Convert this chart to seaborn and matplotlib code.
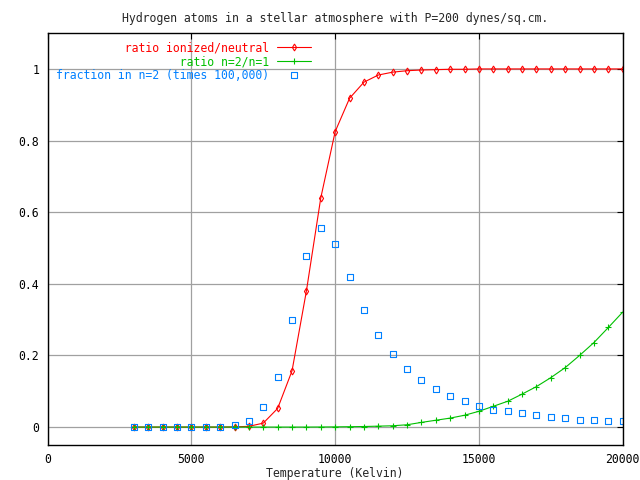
import matplotlib
matplotlib.use("Agg")
import matplotlib.pyplot as plt
from matplotlib.path import Path
import seaborn as sns

temps = [3000, 3500, 4000, 4500, 5000, 5500, 6000, 6500, 7000, 7500,
         8000, 8500, 9000, 9500, 10000, 10500, 11000, 11500, 12000, 12500,
         13000, 13500, 14000, 14500, 15000, 15500, 16000, 16500, 17000, 17500,
         18000, 18500, 19000, 19500, 20000]

ion_ratio = [0, 0, 0, 0, 0, 0, 0, 0.0005, 0.002, 0.011,
             0.052, 0.157, 0.380, 0.640, 0.825, 0.918, 0.963, 0.983, 0.991, 0.995,
             0.997, 0.998, 0.999, 0.999, 1.0, 1.0, 1.0, 1.0, 1.0, 1.0,
             1.0, 1.0, 1.0, 1.0, 1.0]

n2_n1 = [0, 0, 0, 0, 0, 0, 0, 0, 0, 0,
         0, 0, 0, 0.0002, 0.0005, 0.001, 0.0015, 0.0025, 0.0036, 0.0064,
         0.013, 0.019, 0.025, 0.033, 0.044, 0.058, 0.072, 0.092, 0.113, 0.138,
         0.166, 0.200, 0.236, 0.278, 0.321]

frac_n2 = [0, 0, 0, 0, 0, 0, 0, 0.005, 0.017, 0.056,
           0.141, 0.300, 0.478, 0.556, 0.512, 0.420, 0.328, 0.258, 0.203, 0.161,
           0.130, 0.105, 0.086, 0.072, 0.060, 0.049, 0.044, 0.038, 0.033, 0.027,
           0.024, 0.021, 0.019, 0.016, 0.016]

labels = ["ratio ionized/neutral", "ratio n=2/n=1",
          "fraction in n=2 (times 100,000)"]

RED = "#ff0000"
GREEN = "#00c000"
BLUE = "#0080ff"
GRID = "#a0a0a0"

sns.set_style("white")
plt.rcParams["font.family"] = ["DejaVu Sans Mono"]
plt.rcParams["font.size"] = 8.3

# hollow square with a dot in the middle, like gnuplot's point type
sq = [(-1, -1), (1, -1), (1, 1), (-1, 1), (-1, -1),
      (-0.15, -0.15), (0.15, -0.15), (0.15, 0.15), (-0.15, 0.15), (-0.15, -0.15)]
codes = [Path.MOVETO, Path.LINETO, Path.LINETO, Path.LINETO, Path.CLOSEPOLY] * 2
box_dot = Path(sq, codes)

# monospace font -> pad with spaces to right-align the key texts
width = max(len(s) for s in labels)
keys = [s.rjust(width) for s in labels]

fig = plt.figure(figsize=(6.4, 4.8), dpi=100)
ax = fig.add_axes([0.0744, 0.073, 0.8986, 0.858])

sns.lineplot(x=temps, y=ion_ratio, ax=ax, color=RED, lw=0.8,
             marker="d", markersize=3.5, mfc="none", mec=RED, mew=0.8,
             label=keys[0])
sns.lineplot(x=temps, y=n2_n1, ax=ax, color=GREEN, lw=0.8,
             marker="+", markersize=5, mec=GREEN, mew=0.8,
             label=keys[1])
sns.lineplot(x=temps, y=frac_n2, ax=ax, color=BLUE, linestyle="none",
             marker=box_dot, markersize=4.5, mfc="none", mec=BLUE, mew=0.8,
             label=keys[2])

ax.set_xlim(0, 20000)
ax.set_ylim(-0.05, 1.1)
ax.set_xticks([0, 5000, 10000, 15000, 20000])
ax.set_yticks([0, 0.2, 0.4, 0.6, 0.8, 1])
ax.set_yticklabels(["0", "0.2", "0.4", "0.6", "0.8", "1"])
ax.grid(True, color=GRID, lw=0.9)
ax.set_axisbelow(True)
ax.tick_params(direction="in", length=4, width=0.8, top=True, right=True,
               labelsize=8.3, colors="black", pad=6)
for s in ax.spines.values():
    s.set_color("black")
    s.set_linewidth(1)

ax.set_xlabel("Temperature (Kelvin)", fontsize=8.3, labelpad=0.5)
ax.set_title("Hydrogen atoms in a stellar atmosphere with P=200 dynes/sq.cm.",
             fontsize=8.3, pad=8)

leg = ax.legend(loc="upper left", bbox_to_anchor=(0.0, 1.0), frameon=False,
                markerfirst=False, handlelength=3.0, handletextpad=0.7,
                labelspacing=0.08, borderaxespad=0.3, fontsize=8.3)
for t, c in zip(leg.get_texts(), [RED, GREEN, BLUE]):
    t.set_color(c)

fig.savefig("out.png", dpi=100)
